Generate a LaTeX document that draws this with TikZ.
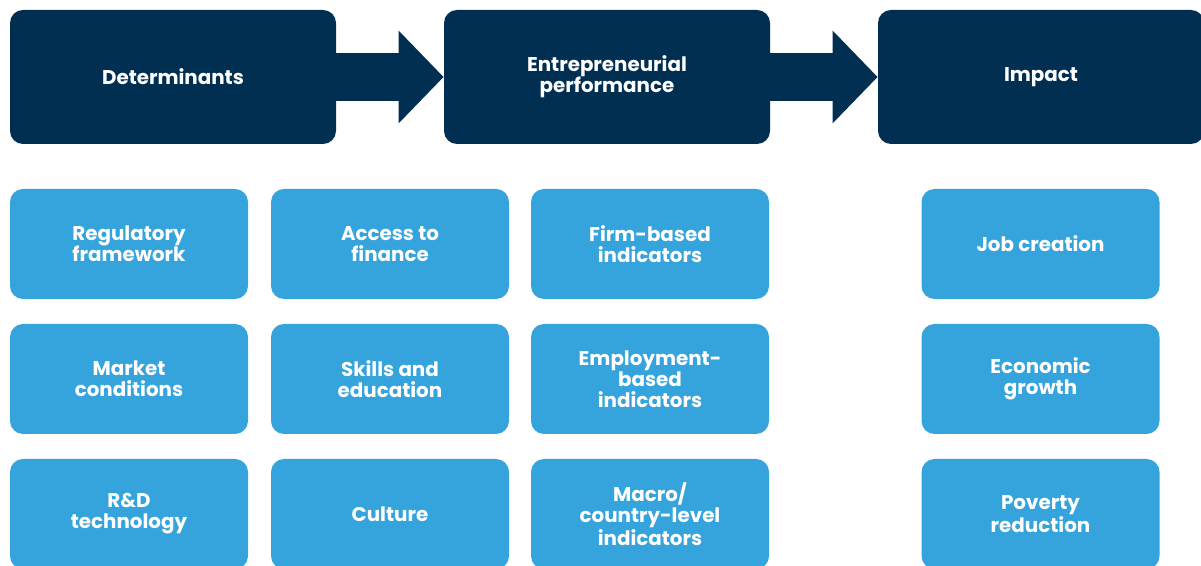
\documentclass[tikz,border=0pt]{standalone}
\usepackage{fontspec}
\setmainfont{Poppins}
\usetikzlibrary{arrows.meta}

\definecolor{navy}{HTML}{002F52}
\definecolor{sky}{HTML}{35A4DC}

\begin{document}
\begin{tikzpicture}[
    stage/.style={fill=navy,rounded corners=0.26cm,minimum width=6.52cm,
                  minimum height=2.68cm,text=white,align=center,
                  font=\fontsize{11.3}{12}\selectfont\bfseries},
    item/.style={fill=sky,rounded corners=0.26cm,minimum width=4.76cm,
                 minimum height=2.2cm,text=white,align=center,
                 font=\fontsize{11.3}{12}\selectfont\bfseries},
    flow/.style={navy,line width=0.96cm,
                 -{Triangle[length=0.9cm,width=1.8cm]}}]
  \useasboundingbox (0,0) rectangle (24.02,11.32);
  \clip (0,0) rectangle (24.02,11.32);
  % top row
  \node[stage] (det)  at (3.46 ,9.78) {Determinants};
  \node[stage] (perf) at (12.14,9.78) {Entrepreneurial\\performance};
  \node[stage] (imp)  at (20.82,9.78) {Impact};
  \draw[flow] (det)  -- (perf);
  \draw[flow] (perf) -- (imp);
  % determinants
  \node[item] (reg)  at (2.58,6.44) {Regulatory\\framework};
  \node[item] (mkt)  at (2.58,3.74) {Market\\conditions};
  \node[item] (rd)   at (2.58,1.04) {R\&D\\technology};
  \node[item] (fin)  at (7.80,6.44) {Access to\\finance};
  \node[item] (edu)  at (7.80,3.74) {Skills and\\education};
  \node[item] (cul)  at (7.80,1.04) {Culture};
  % performance
  \node[item] (firm) at (13.00,6.44) {Firm-based\\indicators};
  \node[item] (emp)  at (13.00,3.74) {Employment-\\based\\indicators};
  \node[item] (mac)  at (13.00,1.04) {Macro/\\country-level\\indicators};
  % impact
  \node[item] (job)  at (20.81,6.44) {Job creation};
  \node[item] (grow) at (20.81,3.74) {Economic\\growth};
  \node[item] (pov)  at (20.81,1.04) {Poverty\\reduction};
\end{tikzpicture}
\end{document}
